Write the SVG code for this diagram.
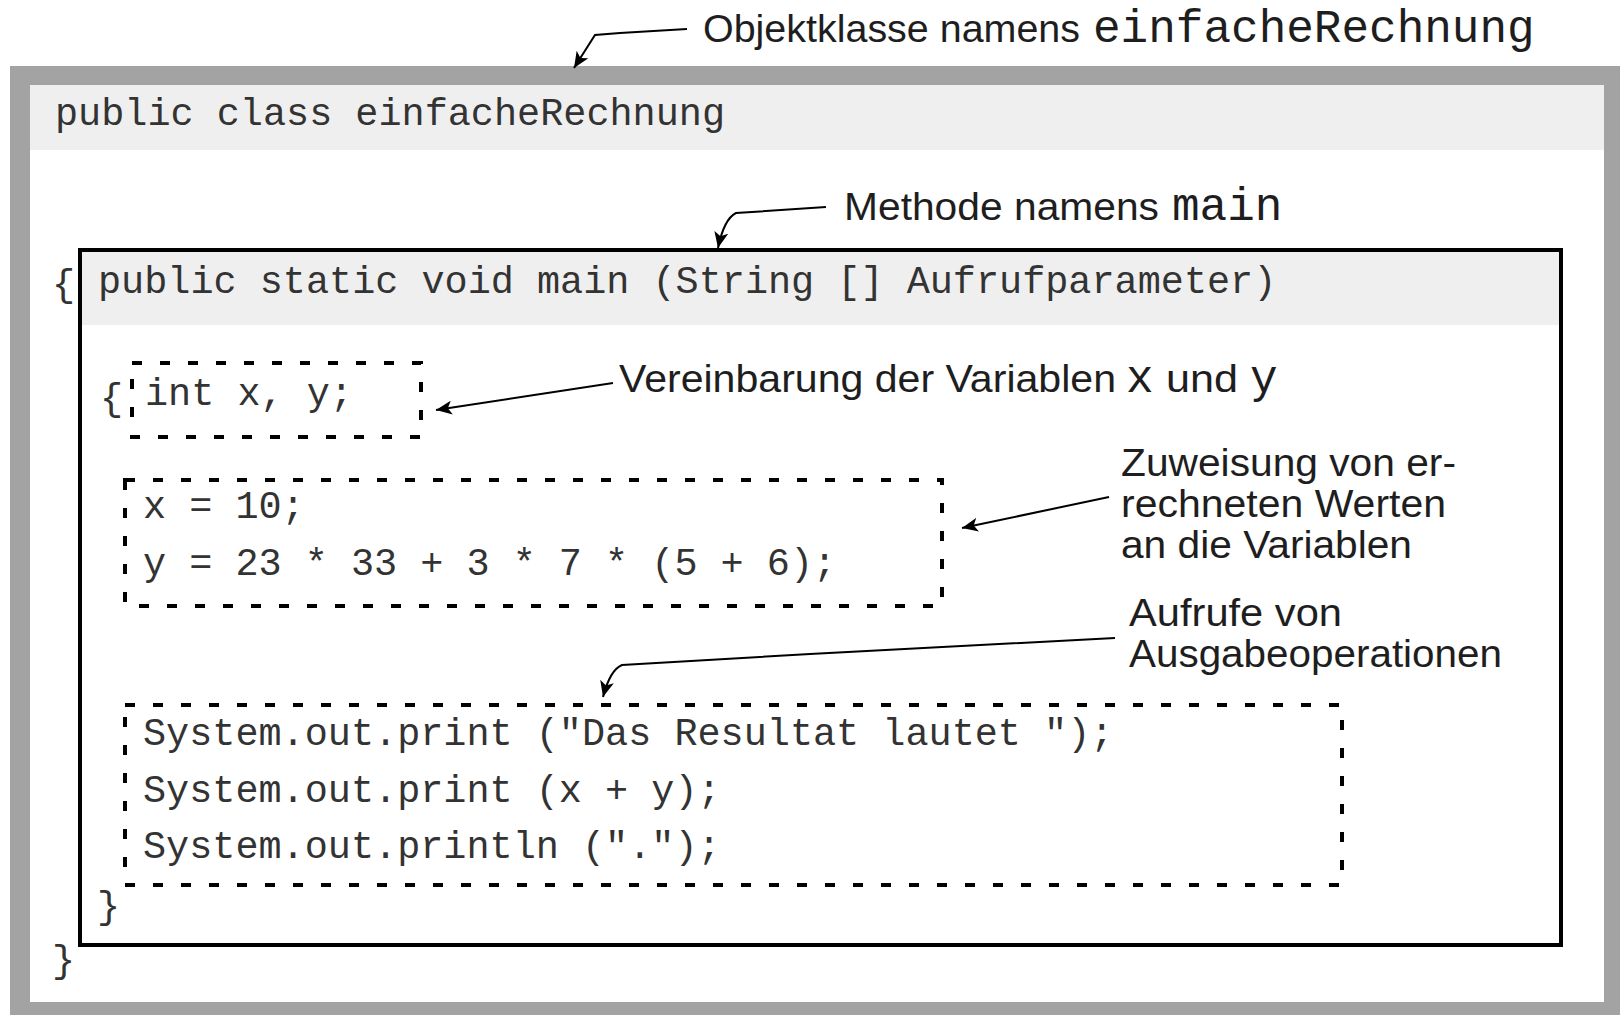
<svg xmlns="http://www.w3.org/2000/svg" width="1620" height="1015" viewBox="0 0 1620 1015">
<style>
.code { font-family: "Liberation Mono", "Courier New", monospace; font-size: 38.5px; fill: #333333; }
.ann { font-family: "Liberation Sans", Arial, sans-serif; font-size: 38px; fill: #1e1e1e; }
.annm { font-family: "Liberation Mono", "Courier New", monospace; font-size: 46px; fill: #1e1e1e; }
.dash { fill: none; stroke: #000000; stroke-width: 4; stroke-dasharray: 10 18; }
.conn { fill: none; stroke: #000000; stroke-width: 2; marker-end: url(#ah); }
</style>
<defs>
<marker id="ah" markerUnits="userSpaceOnUse" markerWidth="18" markerHeight="14" refX="16" refY="7" orient="auto">
<path d="M0,0 L16,7 L0,14 L4,7 z" fill="#000000"/>
</marker>
</defs>
<rect x="0" y="0" width="1620" height="1015" fill="#ffffff"/>

<g id="class-node">
<rect x="10" y="66" width="1610" height="949" fill="#a3a3a3"/>
<rect x="30" y="85" width="1574" height="917" fill="#ffffff"/>
<rect x="30" y="85" width="1574" height="65" fill="#efefef"/>
<text class="code" x="55" y="125">public class einfacheRechnung</text>
<text class="code" x="52" y="296">{</text>
<text class="code" x="52" y="972">}</text>
</g>

<g id="method-node">
<rect x="82" y="252" width="1477" height="73" fill="#efefef"/>
<rect x="80" y="250" width="1481" height="695" fill="none" stroke="#000000" stroke-width="4"/>
<text class="code" x="98" y="293">public static void main (String [] Aufrufparameter)</text>
<text class="code" x="100" y="410">{</text>
<text class="code" x="97" y="918">}</text>
</g>

<g id="declaration-node">
<rect class="dash" x="132" y="363" width="289" height="74"/>
<text class="code" x="145" y="405">int x, y;</text>
</g>

<g id="assignment-node">
<rect class="dash" x="125" y="480" width="817" height="126"/>
<text class="code" x="143" y="518">x = 10;</text>
<text class="code" x="143" y="575">y = 23 * 33 + 3 * 7 * (5 + 6);</text>
</g>

<g id="output-node">
<rect class="dash" x="125" y="705" width="1217" height="180"/>
<text class="code" x="143" y="745">System.out.print ("Das Resultat lautet ");</text>
<text class="code" x="143" y="802">System.out.print (x + y);</text>
<text class="code" x="143" y="858">System.out.println (".");</text>
</g>

<g id="label-class">
<text class="ann" x="703" y="42" textLength="377" lengthAdjust="spacingAndGlyphs">Objektklasse namens</text>
<text class="annm" x="1093" y="42">einfacheRechnung</text>
</g>

<g id="label-method">
<text class="ann" x="844" y="220" textLength="315" lengthAdjust="spacingAndGlyphs">Methode namens</text>
<text class="annm" x="1172" y="220">main</text>
</g>

<g id="label-declaration">
<text class="ann" x="619" y="392" textLength="497" lengthAdjust="spacingAndGlyphs">Vereinbarung der Variablen</text>
<text class="annm" x="1126" y="392">x</text>
<text class="ann" x="1166" y="392" textLength="72" lengthAdjust="spacingAndGlyphs">und</text>
<text class="annm" x="1250" y="392">y</text>
</g>

<g id="label-assignment">
<text class="ann" x="1121" y="476" textLength="335" lengthAdjust="spacingAndGlyphs">Zuweisung von er-</text>
<text class="ann" x="1121" y="517" textLength="325" lengthAdjust="spacingAndGlyphs">rechneten Werten</text>
<text class="ann" x="1121" y="558" textLength="291" lengthAdjust="spacingAndGlyphs">an die Variablen</text>
</g>

<g id="label-output">
<text class="ann" x="1129" y="626" textLength="213" lengthAdjust="spacingAndGlyphs">Aufrufe von</text>
<text class="ann" x="1129" y="667" textLength="373" lengthAdjust="spacingAndGlyphs">Ausgabeoperationen</text>
</g>

<g id="connectors">
<path class="conn" d="M687,29 L620,33 L595,35 L574,68"/>
<path class="conn" d="M826,207 L736,213 Q724,219 718,248"/>
<path class="conn" d="M613,383 L436,410"/>
<path class="conn" d="M1109,497 L962,528"/>
<path class="conn" d="M1115,638 L810,654 L622,665 Q610,670 603,697"/>
</g>
</svg>
